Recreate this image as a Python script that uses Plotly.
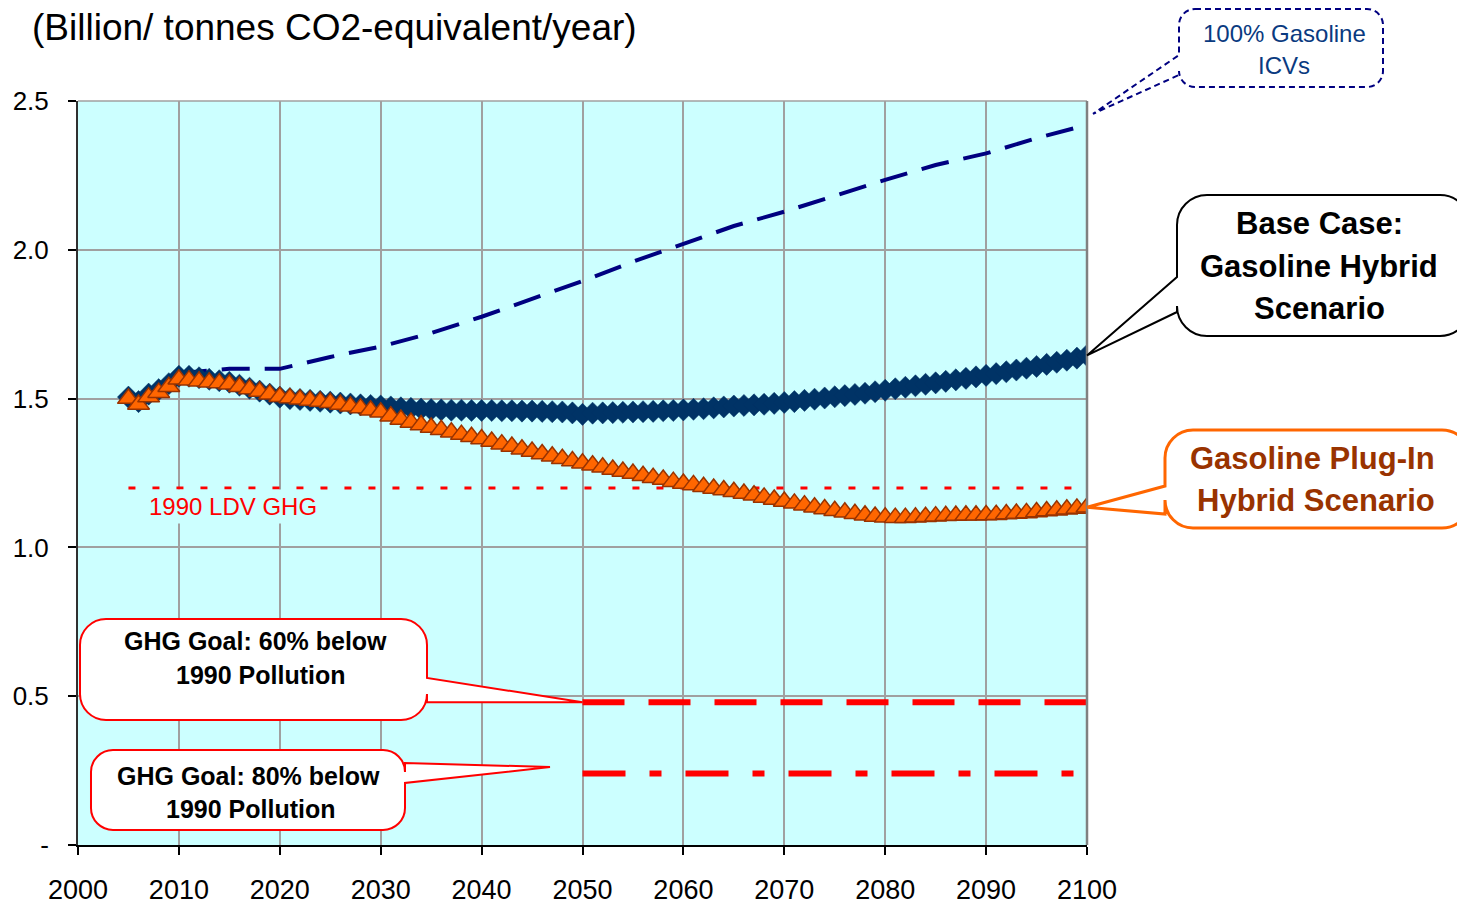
import plotly.graph_objects as go

# ---- data -------------------------------------------------------------
years = list(range(2005, 2101))

# Base case: gasoline hybrid scenario (billion tonnes CO2-eq / year)
base_case = [
    1.505, 1.490, 1.515, 1.530, 1.550, 1.575, 1.575, 1.570, 1.565, 1.560,  # 2005-2014
    1.555, 1.545, 1.535, 1.525, 1.515, 1.505, 1.500, 1.497, 1.494, 1.491,  # 2015-2024
    1.488, 1.485, 1.482, 1.479, 1.477, 1.475, 1.472, 1.469, 1.467, 1.465,  # 2025-2034
    1.463, 1.462, 1.461, 1.461, 1.460, 1.460, 1.460, 1.459, 1.459, 1.458,  # 2035-2044
    1.458, 1.457, 1.456, 1.455, 1.452, 1.447, 1.451, 1.452, 1.453, 1.454,  # 2045-2054
    1.455, 1.456, 1.457, 1.459, 1.460, 1.462, 1.464, 1.466, 1.469, 1.472,  # 2055-2064
    1.475, 1.477, 1.479, 1.481, 1.484, 1.487, 1.490, 1.494, 1.498, 1.502,  # 2065-2074
    1.506, 1.510, 1.514, 1.518, 1.523, 1.528, 1.533, 1.538, 1.543, 1.548,  # 2075-2084
    1.553, 1.558, 1.563, 1.568, 1.573, 1.578, 1.584, 1.590, 1.596, 1.602,  # 2085-2094
    1.608, 1.615, 1.622, 1.629, 1.636, 1.645,                              # 2095-2100
]

# Gasoline plug-in hybrid scenario
phev = [
    1.500, 1.480, 1.505, 1.520, 1.540, 1.565, 1.562, 1.558, 1.555, 1.552,  # 2005-2014
    1.548, 1.540, 1.532, 1.524, 1.515, 1.506, 1.502, 1.498, 1.494, 1.490,  # 2015-2024
    1.486, 1.480, 1.474, 1.468, 1.461, 1.454, 1.441, 1.430, 1.420, 1.411,  # 2025-2034
    1.403, 1.395, 1.387, 1.379, 1.372, 1.364, 1.356, 1.347, 1.339, 1.330,  # 2035-2044
    1.322, 1.314, 1.306, 1.298, 1.290, 1.283, 1.276, 1.269, 1.262, 1.255,  # 2045-2054
    1.248, 1.241, 1.234, 1.228, 1.221, 1.215, 1.210, 1.204, 1.198, 1.193,  # 2055-2064
    1.187, 1.181, 1.175, 1.168, 1.161, 1.154, 1.148, 1.142, 1.135, 1.129,  # 2065-2074
    1.123, 1.118, 1.113, 1.108, 1.104, 1.101, 1.100, 1.100, 1.101, 1.103,  # 2075-2084
    1.105, 1.106, 1.107, 1.108, 1.108, 1.109, 1.110, 1.112, 1.114, 1.116,  # 2085-2094
    1.119, 1.122, 1.125, 1.128, 1.131, 1.135,                              # 2095-2100
]

# 100% gasoline ICVs
icv_years = list(range(2010, 2101, 5))
icv = [1.585, 1.600, 1.600, 1.640, 1.675, 1.720, 1.775, 1.835, 1.895, 1.960,
       2.020, 2.080, 2.128, 2.182, 2.235, 2.285, 2.324, 2.375, 2.420]

# Reference levels
ldv_years = [2005, 2100]
ldv_1990 = [1.2, 1.2]
goal_years = [2050, 2100]
goal_60 = [0.48, 0.48]
goal_80 = [0.24, 0.24]

x_ticks = list(range(2000, 2101, 10))
y_ticks = [0, 0.5, 1.0, 1.5, 2.0, 2.5]
y_tick_text = ["-", "0.5", "1.0", "1.5", "2.0", "2.5"]

# ---- geometry helpers -------------------------------------------------
W, H = 1457, 906
ML, MR, MT, MB = 78, 370, 101, 61
PW, PH = W - ML - MR, H - MT - MB
X0, X1 = 2000, 2100
Y0, Y1 = 0.0, 2.5
FONT = "Liberation Sans, Arial, sans-serif"


def px_to_paper(px, py):
    return (px - ML) / PW, (H - MB - py) / PH


def data_to_px(x, y):
    return ML + (x - X0) / (X1 - X0) * PW, H - MB - (y - Y0) / (Y1 - Y0) * PH


def callout_path(left, top, right, bottom, r, side, t1, t2, tip):
    """Rounded-rectangle callout with a wedge tail, given in pixels."""
    k = 0.552 * r
    pts = []

    def P(x, y):
        xp, yp = px_to_paper(x, y)
        return f"{xp:.5f},{yp:.5f}"

    pts.append(f"M{P(left + r, top)}")
    pts.append(f"L{P(right - r, top)}")
    pts.append(f"C{P(right - r + k, top)} {P(right, top + r - k)} {P(right, top + r)}")
    if side == "right":
        pts.append(f"L{P(right, t1)}")
        pts.append(f"L{P(*tip)}")
        pts.append(f"L{P(right, t2)}")
    pts.append(f"L{P(right, bottom - r)}")
    pts.append(f"C{P(right, bottom - r + k)} {P(right - r + k, bottom)} {P(right - r, bottom)}")
    pts.append(f"L{P(left + r, bottom)}")
    pts.append(f"C{P(left + r - k, bottom)} {P(left, bottom - r + k)} {P(left, bottom - r)}")
    if side == "left":
        pts.append(f"L{P(left, t2)}")
        pts.append(f"L{P(*tip)}")
        pts.append(f"L{P(left, t1)}")
    pts.append(f"L{P(left, top + r)}")
    pts.append(f"C{P(left, top + r - k)} {P(left + r - k, top)} {P(left + r, top)}")
    pts.append("Z")
    return " ".join(pts)


# ---- traces -----------------------------------------------------------
fig = go.Figure()

fig.add_trace(go.Scatter(
    x=ldv_years, y=ldv_1990, mode="lines",
    line=dict(color="#FF0000", width=3, dash="7px,17px"),
    hoverinfo="skip", showlegend=False))

fig.add_trace(go.Scatter(
    x=goal_years, y=goal_60, mode="lines",
    line=dict(color="#FF0000", width=6, dash="42px,24px"),
    hoverinfo="skip", showlegend=False))

fig.add_trace(go.Scatter(
    x=goal_years, y=goal_80, mode="lines",
    line=dict(color="#FF0000", width=6, dash="43px,24px,12px,24px"),
    hoverinfo="skip", showlegend=False))

fig.add_trace(go.Scatter(
    x=icv_years, y=icv, mode="lines",
    line=dict(color="#000080", width=4, dash="28px,15px"),
    showlegend=False))

fig.add_trace(go.Scatter(
    x=years, y=base_case, mode="markers",
    marker=dict(symbol="diamond", size=17, color="#003366",
                line=dict(color="#003366", width=0.5)),
    showlegend=False))

fig.add_trace(go.Scatter(
    x=years, y=phev, mode="markers",
    marker=dict(symbol="triangle-up", size=19, color="#FF6600",
                line=dict(color="#993300", width=1.5)),
    showlegend=False))

# ---- callouts ---------------------------------------------------------
shapes = []
annotations = []

# plot frame: grey top and right edges
shapes.append(dict(type="line", xref="paper", yref="paper", x0=0, y0=1, x1=1, y1=1,
                   line=dict(color="#A0A0A0", width=1.5), layer="above"))
shapes.append(dict(type="line", xref="paper", yref="paper", x0=1, y0=0, x1=1, y1=1,
                   line=dict(color="#808080", width=2.5), layer="above"))

base_tip = data_to_px(years[-1], base_case[-1])
phev_tip = data_to_px(years[-1], phev[-1])
g60_tip = data_to_px(goal_years[0], goal_60[0])
icv_tip = data_to_px(icv_years[-1], icv[-1])
icv_tip = (icv_tip[0] + 6, icv_tip[1] - 11)

callouts = [
    # (box, radius, side, t1, t2, tip, line colour, width, dash)
    ((1179, 9, 1383, 87), 16, "left", 55, 75, icv_tip, "#000080", 2, "6px,4px"),
    ((1177, 195, 1470, 336), 30, "left", 277, 312, base_tip, "#000000", 2, "solid"),
    ((1165, 430, 1470, 528), 28, "left", 486, 514, phev_tip, "#FF6600", 3, "solid"),
    ((80, 619, 427, 720), 26, "right", 678, g60_tip[1], g60_tip, "#FF0000", 2, "solid"),
    ((91, 750, 405, 830), 22, "right", 763, 783, (550, 767), "#FF0000", 2, "solid"),
]
for (l, t, r, b), rad, side, t1, t2, tip, col, wid, dash in callouts:
    shapes.append(dict(type="path", xref="paper", yref="paper",
                       path=callout_path(l, t, r, b, rad, side, t1, t2, tip),
                       fillcolor="#FFFFFF", line=dict(color=col, width=wid, dash=dash),
                       layer="above"))


def text_at(px, py, text, size, color="#000000", bold=False, xanchor="center"):
    xp, yp = px_to_paper(px, py)
    annotations.append(dict(
        x=xp, y=yp, xref="paper", yref="paper", text=f"<b>{text}</b>" if bold else text,
        showarrow=False, xanchor=xanchor, yanchor="middle",
        font=dict(family=FONT, size=size, color=color)))


text_at(30, 27, "(Billion/ tonnes CO2-equivalent/year)", 37, xanchor="left")
text_at(1284, 33, "100% Gasoline", 24, color="#0A3A80")
text_at(1284, 66, "ICVs", 24, color="#0A3A80")
text_at(1319, 224, "Base Case:", 31, bold=True)
text_at(1319, 266, "Gasoline Hybrid", 31, bold=True)
text_at(1319, 308, "Scenario", 31, bold=True)
text_at(1312, 458, "Gasoline Plug-In", 31, color="#993300", bold=True)
text_at(1316, 500, "Hybrid Scenario", 31, color="#993300", bold=True)
text_at(255, 641, "GHG Goal: 60% below", 25, bold=True)
text_at(260, 675, "1990 Pollution", 25, bold=True)
text_at(248, 776, "GHG Goal: 80% below", 25, bold=True)
text_at(250, 809, "1990 Pollution", 25, bold=True)

# label for the 1990 level, on a plot-coloured box that hides the gridline
annotations.append(dict(
    x=2006.6, y=1.136, xref="x", yref="y", text="1990 LDV GHG", showarrow=False,
    xanchor="left", yanchor="middle", bgcolor="#CCFFFF", borderpad=3,
    font=dict(family=FONT, size=24, color="#FF0000")))

# ---- layout -----------------------------------------------------------
fig.update_layout(
    width=W, height=H,
    margin=dict(l=ML, r=MR, t=MT, b=MB, pad=0, autoexpand=False),
    paper_bgcolor="#FFFFFF",
    plot_bgcolor="#CCFFFF",
    font=dict(family=FONT, color="#000000"),
    shapes=shapes,
    annotations=annotations,
    showlegend=False,
    xaxis=dict(
        range=[X0, X1], tickvals=x_ticks, ticktext=[str(v) for v in x_ticks],
        showgrid=True, gridcolor="#A0A0A0", gridwidth=1.5,
        showline=True, linecolor="#000000", linewidth=2,
        ticks="outside", ticklen=8, tickwidth=1.5, tickcolor="#000000",
        tickfont=dict(family=FONT, size=27, color="#000000"),
        ticklabelstandoff=12, zeroline=False, fixedrange=True, automargin=False,
    ),
    yaxis=dict(
        range=[Y0, Y1], tickvals=y_ticks, ticktext=y_tick_text,
        showgrid=True, gridcolor="#A0A0A0", gridwidth=1.5,
        showline=True, linecolor="#303030", linewidth=2,
        ticks="outside", ticklen=8, tickwidth=1.5, tickcolor="#000000",
        tickfont=dict(family=FONT, size=26, color="#000000"),
        ticklabelstandoff=14, zeroline=False, fixedrange=True, automargin=False,
    ),
)

fig.write_html("out.html")
